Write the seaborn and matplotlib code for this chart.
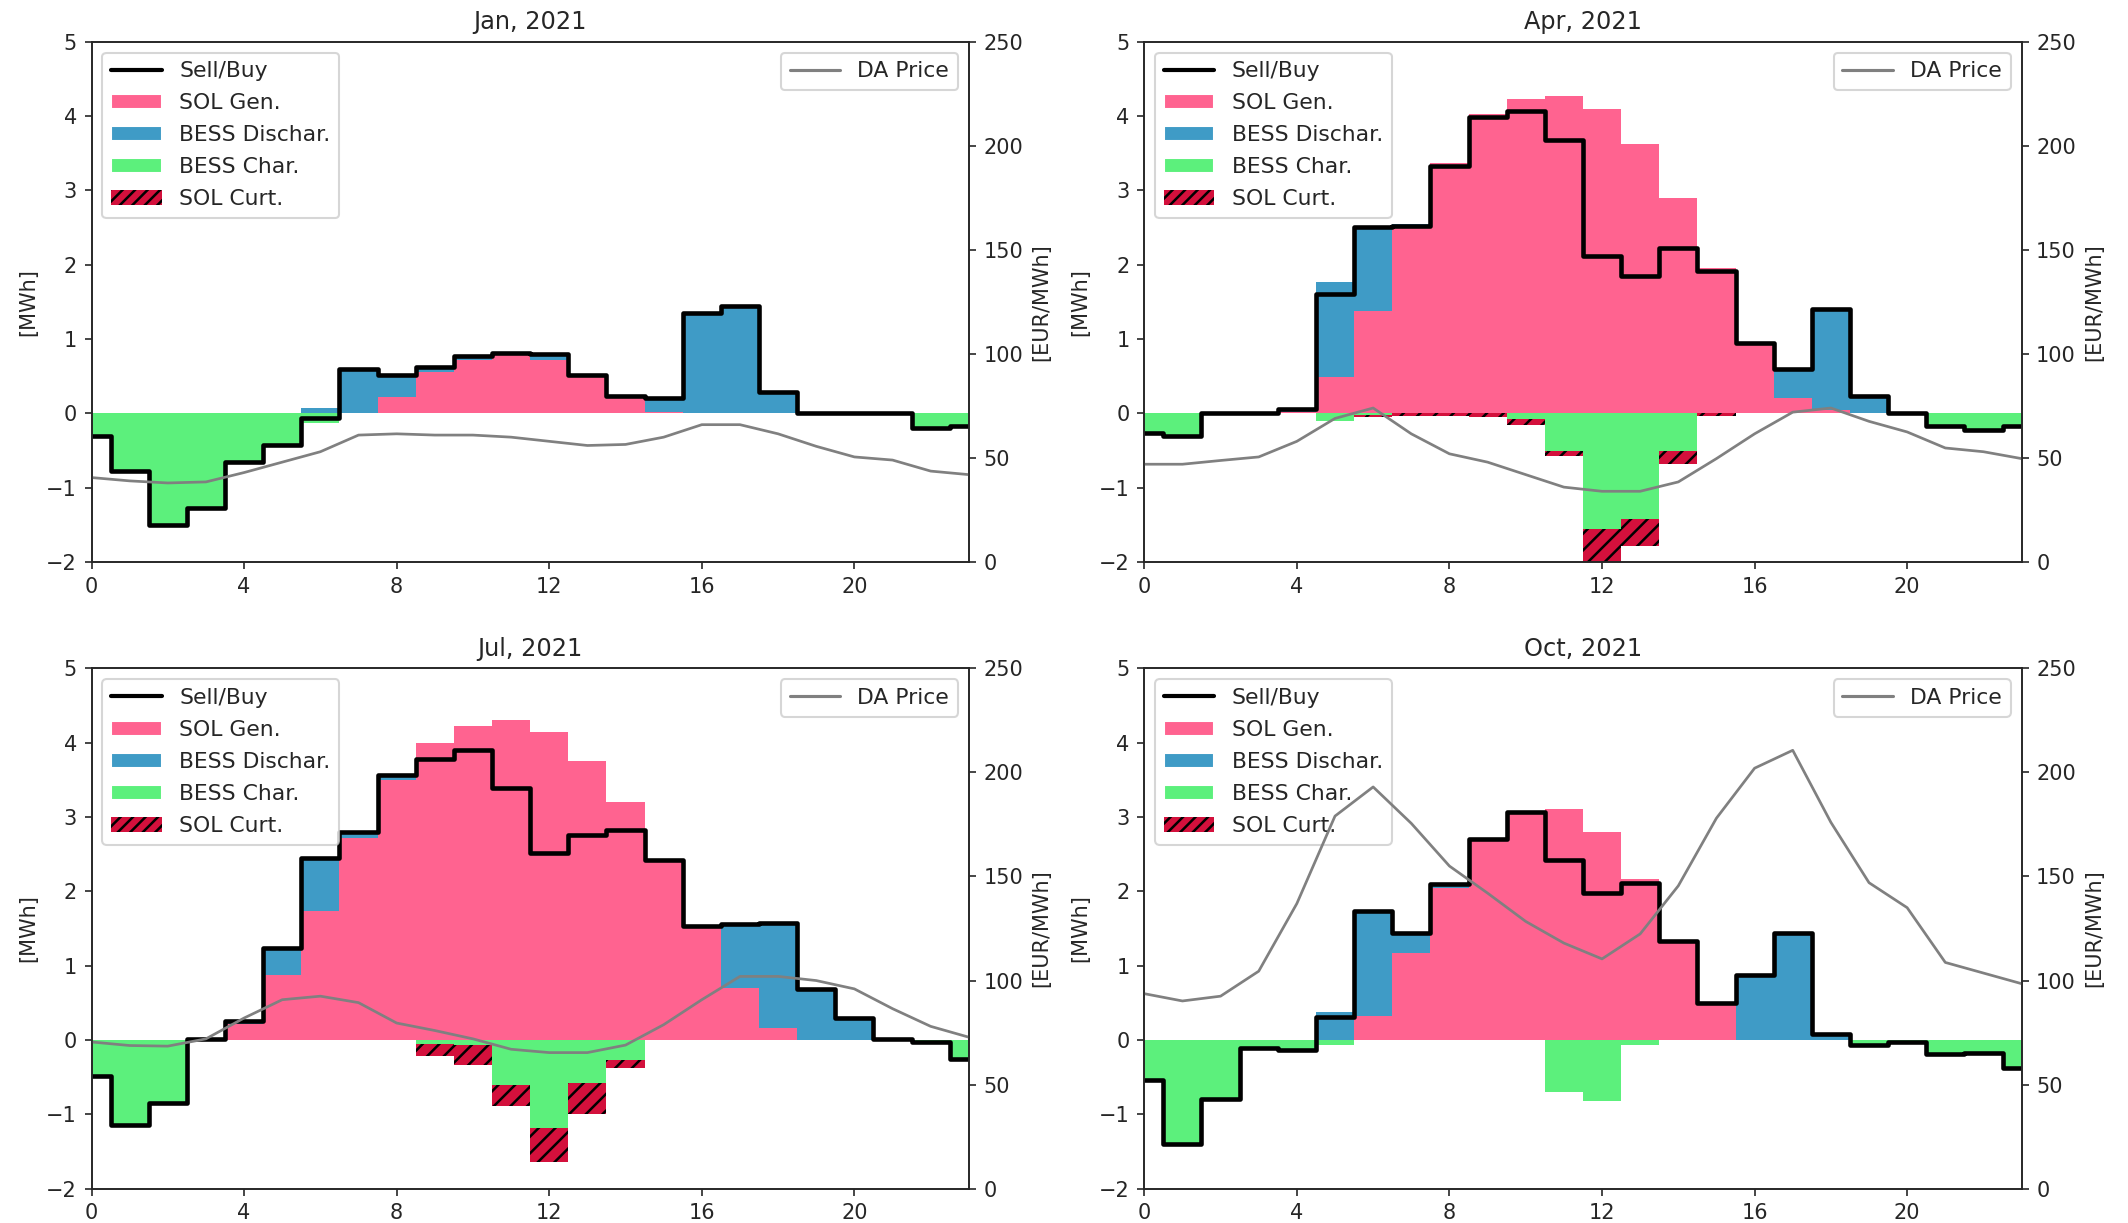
import numpy as np
import matplotlib.pyplot as plt
import seaborn as sns
from matplotlib.patches import Patch
from matplotlib.lines import Line2D

hours = np.arange(24)

# Jan, 2021
jan_sol_gen = [0, 0, 0, 0, 0, 0, 0, 0, 0.22, 0.55, 0.72, 0.78, 0.72, 0.51, 0.22, 0.02, 0, 0, 0, 0, 0, 0, 0, 0]
jan_bess_dis = [0, 0, 0, 0, 0, 0, 0.07, 0.59, 0.30, 0.07, 0.05, 0.03, 0.08, 0, 0.02, 0.19, 1.35, 1.44, 0.29, 0, 0, 0, 0, 0]
jan_bess_char = [0.30, 0.78, 1.50, 1.27, 0.66, 0.42, 0.13, 0, 0, 0, 0, 0, 0, 0, 0, 0, 0, 0, 0, 0, 0, 0, 0.20, 0.17]
jan_sol_curt = [0] * 24
jan_sell = [-0.30, -0.78, -1.50, -1.27, -0.66, -0.42, -0.06, 0.59, 0.52, 0.62, 0.77, 0.81,
            0.80, 0.51, 0.24, 0.21, 1.35, 1.44, 0.29, 0, 0, 0, -0.20, -0.17]
jan_price = [40.6, 39, 38, 38.5, 43, 48, 53, 61, 61.6, 61, 61, 60,
             58, 56, 56.5, 60, 66, 66, 61.6, 55.6, 50.5, 49, 43.7, 42]

# Apr, 2021
apr_sol_gen = [0, 0, 0, 0, 0.02, 0.49, 1.38, 2.52, 3.37, 4.02, 4.23, 4.27,
               4.09, 3.62, 2.89, 1.95, 0.95, 0.20, 0.05, 0, 0, 0, 0, 0]
apr_bess_dis = [0, 0, 0, 0, 0.04, 1.27, 1.13, 0.03, 0, 0, 0, 0, 0, 0, 0, 0, 0, 0.40, 1.36, 0.23, 0, 0, 0, 0]
apr_bess_char = [0.27, 0.31, 0, 0, 0, 0.10, 0.02, 0, 0, 0, 0.07, 0.50, 1.56, 1.42, 0.51, 0, 0, 0, 0, 0, 0, 0.17, 0.22, 0.17]
apr_sol_curt = [0, 0, 0, 0, 0, 0, 0.03, 0.04, 0.04, 0.05, 0.09, 0.08, 0.44, 0.36, 0.17, 0.03, 0, 0, 0, 0, 0, 0, 0, 0]
apr_sell = [-0.27, -0.31, 0, 0, 0.06, 1.61, 2.51, 2.52, 3.33, 3.98, 4.07, 3.68,
            2.11, 1.85, 2.23, 1.92, 0.95, 0.60, 1.41, 0.23, 0, -0.17, -0.22, -0.17]
apr_price = [47, 47, 48.8, 50.5, 58, 69, 74, 61.6, 52, 48, 42, 36,
             34, 34, 38.5, 49.7, 61.6, 72, 74, 67.6, 62.5, 54.8, 53, 49.7]

# Jul, 2021
jul_sol_gen = [0, 0, 0, 0.01, 0.22, 0.88, 1.73, 2.72, 3.50, 4.00, 4.23, 4.30,
               4.14, 3.75, 3.20, 2.42, 1.54, 0.70, 0.16, 0, 0, 0, 0, 0]
jul_bess_dis = [0, 0, 0, 0, 0.03, 0.36, 0.72, 0.08, 0.06, 0, 0, 0, 0, 0, 0, 0, 0, 0.86, 1.41, 0.69, 0.29, 0.02, 0, 0]
jul_bess_char = [0.49, 1.14, 0.85, 0, 0, 0, 0, 0, 0, 0.05, 0.07, 0.61, 1.18, 0.58, 0.27, 0, 0, 0, 0, 0, 0, 0, 0.02, 0.26]
jul_sol_curt = [0, 0, 0, 0, 0, 0, 0, 0, 0, 0.16, 0.27, 0.28, 0.46, 0.41, 0.10, 0, 0, 0, 0, 0, 0, 0, 0, 0]
jul_sell = [-0.49, -1.14, -0.85, 0.01, 0.25, 1.24, 2.45, 2.80, 3.56, 3.78, 3.90, 3.39,
            2.52, 2.76, 2.82, 2.42, 1.54, 1.56, 1.57, 0.69, 0.29, 0.02, -0.02, -0.26]
jul_price = [70.5, 68.8, 68.5, 72, 82, 90.8, 92.5, 89.4, 79.6, 76, 72, 67,
             65.4, 65.4, 69, 78.8, 90.8, 102, 102, 100, 96, 86.5, 78, 72.8]

# Oct, 2021
oct_sol_gen = [0, 0, 0, 0, 0, 0, 0.33, 1.17, 2.05, 2.70, 3.07, 3.11,
               2.80, 2.17, 1.33, 0.50, 0, 0, 0, 0, 0, 0, 0, 0]
oct_bess_dis = [0, 0, 0, 0, 0, 0.38, 1.40, 0.27, 0.05, 0, 0, 0, 0, 0, 0, 0, 0.87, 1.44, 0.08, 0, 0, 0, 0, 0]
oct_bess_char = [0.54, 1.40, 0.79, 0.11, 0.13, 0.07, 0, 0, 0, 0, 0, 0.70, 0.82, 0.06, 0, 0, 0, 0, 0, 0.07, 0.02, 0.19, 0.18, 0.38]
oct_sol_curt = [0] * 24
oct_sell = [-0.54, -1.40, -0.79, -0.11, -0.13, 0.31, 1.73, 1.44, 2.10, 2.70, 3.07, 2.42,
            1.98, 2.11, 1.33, 0.50, 0.87, 1.44, 0.08, -0.07, -0.02, -0.19, -0.18, -0.38]
oct_price = [93.7, 90.2, 92.5, 104.5, 137, 179, 193, 175.5, 155, 142, 128.4, 118,
             110.4, 122.4, 145.5, 178, 202, 210.6, 176, 147, 135, 108.7, 103.6, 98.5]

panels = [
    ("Jan, 2021", jan_sol_gen, jan_bess_dis, jan_bess_char, jan_sol_curt, jan_sell, jan_price),
    ("Apr, 2021", apr_sol_gen, apr_bess_dis, apr_bess_char, apr_sol_curt, apr_sell, apr_price),
    ("Jul, 2021", jul_sol_gen, jul_bess_dis, jul_bess_char, jul_sol_curt, jul_sell, jul_price),
    ("Oct, 2021", oct_sol_gen, oct_bess_dis, oct_bess_char, oct_sol_curt, oct_sell, oct_price),
]

c_gen = "#ff6390"
c_dis = "#3f9bc6"
c_char = "#5cf07c"
c_curt = "#d3103c"

sns.set_style("ticks")
plt.rcParams["hatch.linewidth"] = 1.2

fig, axes = plt.subplots(2, 2, figsize=(2128 / 150, 1223 / 150))
fig.subplots_adjust(left=0.043, right=0.950, top=0.966, bottom=0.028, wspace=0.2, hspace=0.204)

for ax, (title, gen, dis, char, curt, sell, price) in zip(axes.flat, panels):
    gen = np.array(gen)
    dis = np.array(dis)
    char = np.array(char)
    curt = np.array(curt)

    # stacked hourly bars: generation + discharge up, charge + curtailment down
    ax.bar(hours, gen, width=1, color=c_gen, linewidth=0)
    ax.bar(hours, dis, width=1, bottom=gen, color=c_dis, linewidth=0)
    ax.bar(hours, -char, width=1, color=c_char, linewidth=0)
    ax.bar(hours, -curt, width=1, bottom=-char, color=c_curt, edgecolor="black",
           hatch="///", linewidth=0)
    sns.lineplot(x=hours, y=sell, ax=ax, color="black", linewidth=2.2, drawstyle="steps-mid")

    ax.set_xlim(0, 23)
    ax.set_ylim(-2, 5)
    ax.set_xticks(range(0, 24, 4))
    ax.set_title(title, fontsize=11.5)
    ax.set_ylabel("[MWh]")

    ax2 = ax.twinx()
    sns.lineplot(x=hours, y=price, ax=ax2, color="gray", linewidth=1.3)
    ax2.set_ylim(0, 250)
    ax2.set_ylabel("[EUR/MWh]")

    handles = [
        Line2D([0], [0], color="black", lw=2, label="Sell/Buy"),
        Patch(facecolor=c_gen, label="SOL Gen."),
        Patch(facecolor=c_dis, label="BESS Dischar."),
        Patch(facecolor=c_char, label="BESS Char."),
        Patch(facecolor=c_curt, edgecolor="black", hatch="////", linewidth=0, label="SOL Curt."),
    ]
    ax.legend(handles=handles, loc="upper left", fontsize=10.5, handlelength=2.3, labelspacing=0.55)
    ax2.legend(handles=[Line2D([0], [0], color="gray", lw=1.5, label="DA Price")],
               loc="upper right", fontsize=10.5, handlelength=2.3)

plt.savefig("out.png", dpi=150)
plt.close()
